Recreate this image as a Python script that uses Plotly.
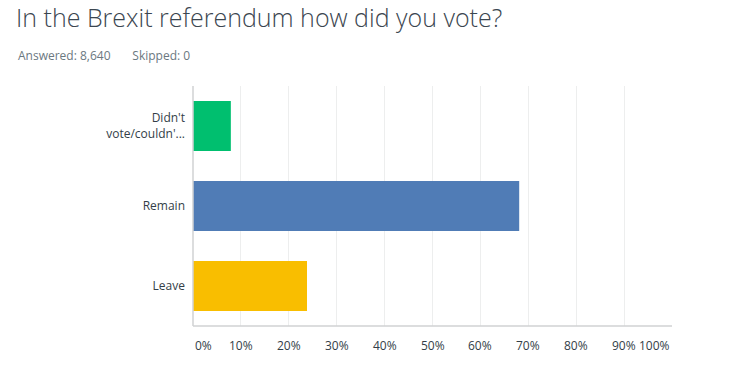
import plotly.graph_objects as go

title = "In the Brexit referendum how did you vote?"
subtitle = "Answered: 8,640&nbsp;&nbsp;&nbsp;&nbsp;&nbsp;&nbsp;&nbsp;Skipped: 0"
categories = ["Didn't<br>vote/couldn'...", "Remain", "Leave"]
values = [7.9, 68.1, 23.8]
colors = ["#00BF6F", "#507CB6", "#F9BE00"]
tick_vals = [0, 10, 20, 30, 40, 50, 60, 70, 80, 90, 100]
tick_labels = ["0%", "10%", "20%", "30%", "40%", "50%", "60%", "70%", "80%", "90%", "100%"]

FONT = "Open Sans"
TXT = "#333E48"

fig = go.Figure()
fig.add_trace(go.Bar(
    y=categories, x=values, orientation="h",
    marker=dict(color=colors, line=dict(width=0)),
    hoverinfo="skip",
))

for v, lab in zip(tick_vals, tick_labels):
    anchor = "left" if v == tick_vals[0] else ("right" if v == tick_vals[-1] else "center")
    fig.add_annotation(
        x=v, y=0, xref="x", yref="paper", yanchor="top", yshift=-9,
        xanchor=anchor, text=lab, showarrow=False,
        font=dict(family=FONT, size=12, color=TXT),
    )

fig.add_annotation(
    x=0, xref="paper", xshift=16 - 193, xanchor="left",
    y=1, yref="paper", yshift=86 - 55, yanchor="middle",
    text=subtitle, showarrow=False,
    font=dict(family=FONT, size=12, color="#6B787F"),
)

fig.update_layout(
    width=734, height=373,
    margin=dict(l=193, r=62, t=86, b=47),
    paper_bgcolor="white", plot_bgcolor="white",
    showlegend=False,
    bargap=0.375,
    font=dict(family=FONT, size=12, color=TXT),
    title=dict(
        text=title, x=16 / 734, xanchor="left", xref="container",
        y=1 - 18 / 373, yanchor="middle", yref="container",
        font=dict(family=FONT, size=25, color="#3B4650", weight=300),
    ),
    xaxis=dict(
        range=[0, 100], tickvals=tick_vals, showticklabels=False,
        showgrid=True, gridcolor="#EDEEEE", gridwidth=1,
        zeroline=False, showline=False, fixedrange=True,
    ),
    yaxis=dict(
        autorange="reversed", showgrid=False, zeroline=False,
        showline=False, ticks="", ticklabelstandoff=7, fixedrange=True,
        tickfont=dict(family=FONT, size=12, color=TXT),
    ),
    shapes=[
        dict(type="line", xref="paper", yref="paper", x0=0, x1=0, y0=0, y1=1,
             line=dict(color="#D0D2D3", width=1.5)),
        dict(type="line", xref="paper", yref="paper", x0=0, x1=1, y0=0, y1=0,
             line=dict(color="#D0D2D3", width=1.5)),
    ],
)

fig.write_html(
    "out.html",
    config={"displayModeBar": False},
    post_script="document.body.style.margin='0px';",
)
